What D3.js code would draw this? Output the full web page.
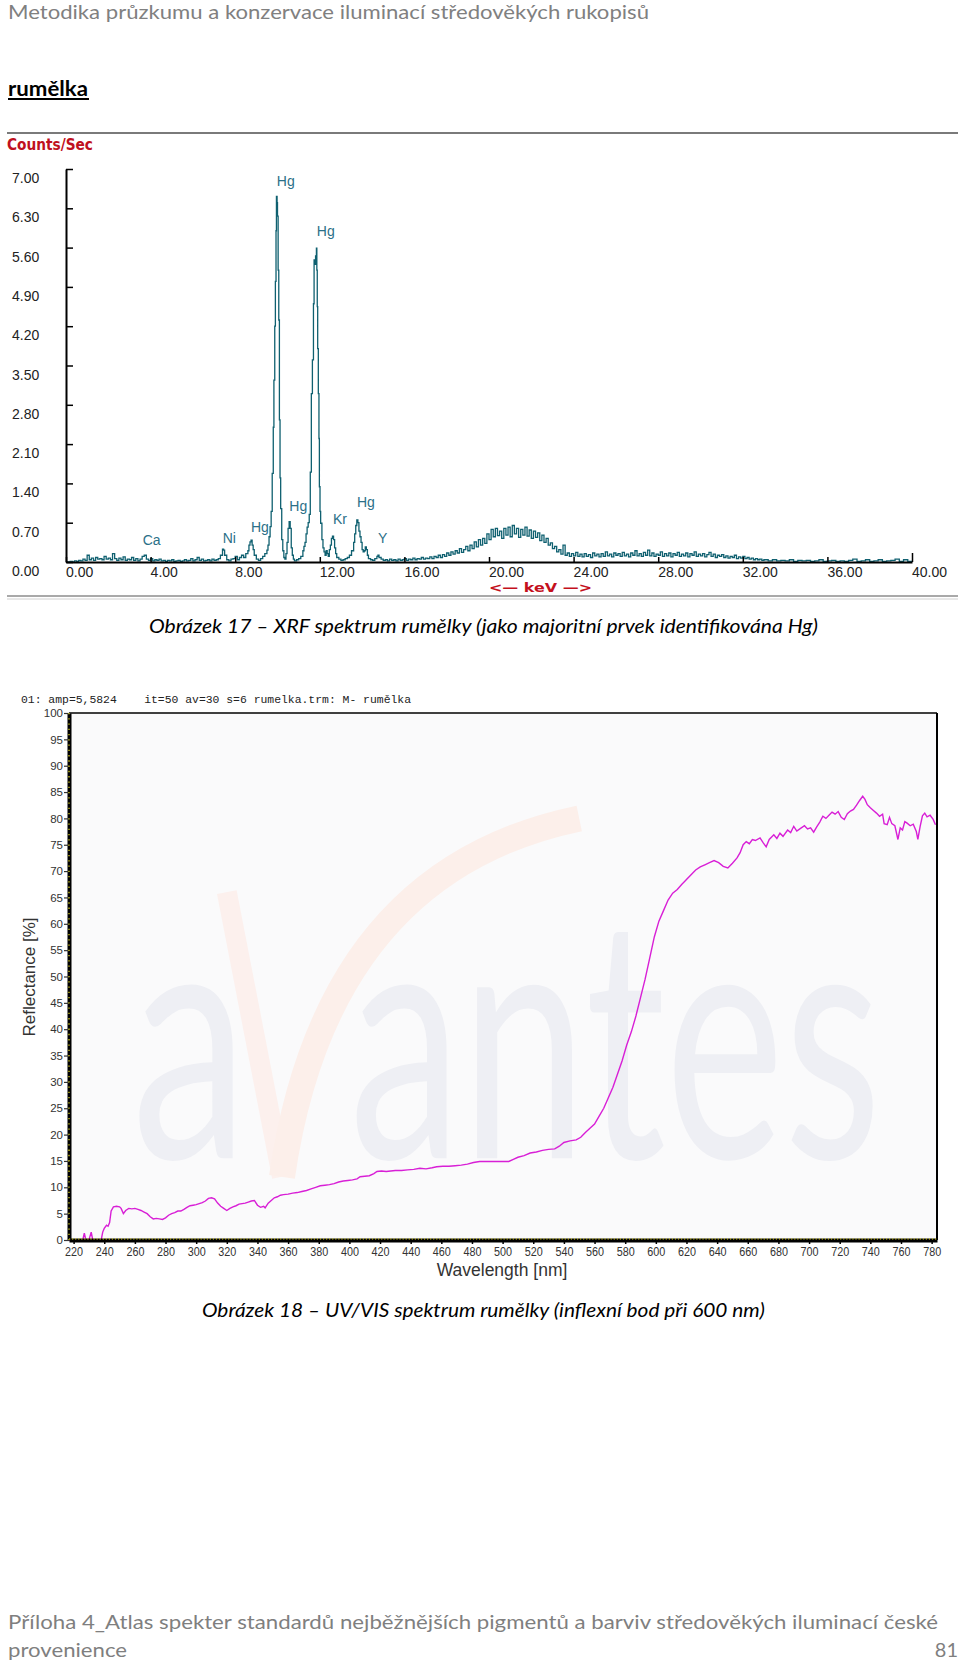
<!DOCTYPE html>
<html><head><meta charset="utf-8">
<script src="https://cdn.jsdelivr.net/npm/d3@7"></script>
<style>
html,body{margin:0;padding:0;background:#fff;}
svg{display:block;}
</style></head><body>
<svg id="page" width="960" height="1666"></svg>
<script>
// ---------------- page texts ----------------
const pageHeader = "Metodika průzkumu a konzervace iluminací středověkých rukopisů";
const sectionTitle = "rumělka";
const caption17 = "Obrázek 17 – XRF spektrum rumělky (jako majoritní prvek identifikována Hg)";
const caption18 = "Obrázek 18 – UV/VIS spektrum rumělky (inflexní bod při 600 nm)";
const footerLine1 = "Příloha 4_Atlas spekter standardů nejběžnějších pigmentů a barviv středověkých iluminací české";
const footerLine2 = "provenience";
const pageNumber = "81";

// ---------------- XRF chart data ----------------
const xrfYLabel = "Counts/Sec";
const xrfXLabel = "<— keV —>";
const xrfYTicks = [0, 0.7, 1.4, 2.1, 2.8, 3.5, 4.2, 4.9, 5.6, 6.3, 7.0];
const xrfXTicks = [0, 4, 8, 12, 16, 20, 24, 28, 32, 36, 40];
// [keV, counts/sec]
const xrfSpectrum = [
[0,0],[0.1,0],[0.2,0.01],[0.3,0],[0.4,0.02],[0.5,0.01],[0.6,0.03],[0.7,0.02],[0.8,0.05],[0.9,0.03],
[1.0,0.12],[1.1,0.04],[1.2,0.07],[1.3,0.03],[1.4,0.08],[1.5,0.05],[1.6,0.06],[1.7,0.04],[1.8,0.1],[1.9,0.05],
[2.0,0.07],[2.1,0.04],[2.2,0.15],[2.3,0.06],[2.4,0.03],[2.5,0.07],[2.6,0.04],[2.7,0.09],[2.8,0.03],[2.9,0.05],
[3.0,0.04],[3.1,0.08],[3.2,0.03],[3.3,0.06],[3.4,0.02],[3.5,0.05],[3.6,0.1],[3.7,0.12],[3.8,0.05],[3.9,0.03],
[4.0,0.06],[4.1,0.02],[4.2,0.04],[4.3,0.03],[4.4,0.05],[4.5,0.02],[4.6,0.03],[4.7,0.01],[4.8,0.03],[4.9,0.02],
[5.0,0.04],[5.1,0.01],[5.2,0.02],[5.3,0.03],[5.4,0.01],[5.5,0.02],[5.6,0.04],[5.7,0.02],[5.8,0.03],[5.9,0.06],
[6.0,0.02],[6.1,0.04],[6.2,0.08],[6.3,0.03],[6.4,0.05],[6.5,0.02],[6.6,0.03],[6.7,0.04],[6.8,0.02],[6.9,0.05],
[7.0,0.03],[7.1,0.04],[7.2,0.06],[7.3,0.12],[7.4,0.23],[7.45,0.21],[7.5,0.12],[7.6,0.04],[7.7,0.02],[7.8,0.05],
[7.9,0.06],[8.0,0.1],[8.1,0.04],[8.2,0.08],[8.3,0.12],[8.4,0.08],[8.5,0.15],[8.6,0.2],[8.65,0.3],[8.7,0.36],
[8.75,0.39],[8.8,0.3],[8.85,0.22],[8.9,0.12],[9.0,0.05],[9.1,0.03],[9.2,0.06],[9.3,0.1],[9.4,0.15],[9.5,0.21],
[9.55,0.3],[9.6,0.45],[9.65,0.63],[9.7,0.9],[9.75,1.58],[9.8,2.4],[9.83,3.24],[9.87,4.2],[9.9,5.0],[9.93,5.9],
[9.95,6.51],[9.98,6.4],[10.0,6.16],[10.03,5.2],[10.06,4.31],[10.09,2.53],[10.12,1.5],[10.15,0.95],[10.2,0.4],[10.25,0.2],
[10.3,0.08],[10.35,0.05],[10.4,0.15],[10.45,0.35],[10.5,0.6],[10.55,0.72],[10.6,0.6],[10.65,0.25],[10.7,0.12],[10.75,0.05],
[10.8,0.02],[10.9,0.04],[11.0,0.06],[11.1,0.1],[11.2,0.2],[11.25,0.28],[11.3,0.35],[11.35,0.5],[11.4,0.62],[11.45,0.7],
[11.5,0.85],[11.55,1.6],[11.6,3.0],[11.65,3.6],[11.7,4.6],[11.73,5.38],[11.77,5.3],[11.8,5.45],[11.84,5.59],[11.86,5.2],
[11.88,4.55],[11.9,3.8],[11.93,3.0],[11.96,2.2],[11.98,1.34],[12.01,0.9],[12.04,0.69],[12.1,0.4],[12.15,0.25],[12.2,0.18],
[12.25,0.12],[12.3,0.2],[12.35,0.15],[12.4,0.1],[12.45,0.22],[12.5,0.3],[12.55,0.42],[12.6,0.46],[12.65,0.4],[12.7,0.25],
[12.75,0.15],[12.8,0.08],[12.9,0.05],[13.0,0.03],[13.1,0.04],[13.2,0.06],[13.3,0.08],[13.4,0.12],[13.5,0.2],[13.6,0.35],
[13.65,0.5],[13.7,0.65],[13.75,0.75],[13.8,0.7],[13.85,0.55],[13.9,0.45],[13.95,0.35],[14.0,0.22],[14.05,0.18],[14.1,0.2],
[14.15,0.27],[14.2,0.22],[14.25,0.12],[14.3,0.06],[14.4,0.04],[14.5,0.03],[14.6,0.06],[14.7,0.1],[14.75,0.12],[14.8,0.08],
[14.9,0.05],[15.0,0.03],[15.1,0.04],[15.2,0.02],[15.3,0.05],[15.4,0.03],[15.5,0.04],[15.6,0.02],[15.7,0.05],[15.8,0.03],
[15.9,0.04],[16.0,0.06],[16.1,0.03],[16.2,0.05],[16.3,0.04],[16.4,0.07],[16.5,0.04],[16.6,0.06],[16.7,0.05],[16.8,0.08],
[16.9,0.05],[17.0,0.07],[17.1,0.06],[17.2,0.09],[17.3,0.06],[17.4,0.1],[17.5,0.08],[17.6,0.12],[17.7,0.08],[17.8,0.13],
[17.9,0.1],[18.0,0.16],[18.1,0.12],[18.2,0.18],[18.3,0.14],[18.4,0.2],[18.5,0.16],[18.6,0.24],[18.7,0.17],[18.8,0.22],
[18.9,0.28],[19.0,0.2],[19.1,0.3],[19.2,0.24],[19.3,0.36],[19.4,0.27],[19.5,0.4],[19.6,0.3],[19.7,0.42],[19.8,0.33],
[19.9,0.5],[20.0,0.4],[20.1,0.58],[20.2,0.45],[20.3,0.6],[20.4,0.47],[20.5,0.55],[20.6,0.42],[20.7,0.6],[20.8,0.48],
[20.9,0.62],[21.0,0.45],[21.1,0.65],[21.2,0.5],[21.3,0.6],[21.4,0.44],[21.5,0.58],[21.6,0.48],[21.7,0.62],[21.8,0.46],
[21.9,0.57],[22.0,0.42],[22.1,0.55],[22.2,0.44],[22.3,0.52],[22.4,0.38],[22.5,0.48],[22.6,0.35],[22.7,0.42],[22.8,0.3],
[22.9,0.34],[23.0,0.24],[23.1,0.28],[23.2,0.18],[23.3,0.22],[23.4,0.14],[23.5,0.3],[23.6,0.12],[23.7,0.16],[23.8,0.1],
[23.9,0.15],[24.0,0.11],[24.1,0.17],[24.2,0.1],[24.3,0.14],[24.4,0.09],[24.5,0.15],[24.6,0.1],[24.7,0.13],[24.8,0.08],
[24.9,0.16],[25.0,0.11],[25.1,0.14],[25.2,0.09],[25.3,0.15],[25.4,0.1],[25.5,0.18],[25.6,0.11],[25.7,0.14],[25.8,0.09],
[25.9,0.16],[26.0,0.12],[26.1,0.15],[26.2,0.1],[26.3,0.17],[26.4,0.11],[26.5,0.14],[26.6,0.09],[26.7,0.16],[26.8,0.12],
[26.9,0.2],[27.0,0.11],[27.1,0.15],[27.2,0.1],[27.3,0.17],[27.4,0.12],[27.5,0.21],[27.6,0.11],[27.7,0.16],[27.8,0.1],
[27.9,0.14],[28.0,0.12],[28.1,0.18],[28.2,0.1],[28.3,0.15],[28.4,0.11],[28.5,0.16],[28.6,0.09],[28.7,0.15],[28.8,0.12],
[28.9,0.17],[29.0,0.1],[29.1,0.14],[29.2,0.11],[29.3,0.16],[29.4,0.09],[29.5,0.15],[29.6,0.12],[29.7,0.18],[29.8,0.1],
[29.9,0.14],[30.0,0.11],[30.1,0.15],[30.2,0.09],[30.3,0.13],[30.4,0.17],[30.5,0.1],[30.6,0.14],[30.7,0.08],[30.8,0.12],
[30.9,0.1],[31.0,0.13],[31.1,0.08],[31.2,0.11],[31.3,0.07],[31.4,0.1],[31.5,0.08],[31.6,0.12],[31.7,0.06],[31.8,0.09],
[31.9,0.07],[32.0,0.1],[32.1,0.06],[32.2,0.08],[32.3,0.05],[32.4,0.07],[32.5,0.04],[32.6,0.06],[32.7,0.04],[32.8,0.05],
[32.9,0.03],[33.0,0.04],[33.2,0.02],[33.4,0.04],[33.6,0.02],[33.8,0.03],[34.0,0.02],[34.2,0.04],[34.4,0.01],[34.6,0.03],
[34.8,0.02],[35.0,0.03],[35.2,0.01],[35.4,0.02],[35.6,0.04],[35.8,0.01],[36.0,0.02],[36.2,0.03],[36.4,0.01],[36.6,0.02],
[36.8,0.01],[37.0,0.03],[37.2,0.05],[37.4,0.01],[37.6,0.02],[37.8,0.04],[38.0,0.01],[38.2,0.02],[38.4,0.04],[38.6,0.01],
[38.8,0.02],[39.0,0.03],[39.2,0.05],[39.4,0.01],[39.6,0.04],[39.8,0.01],[40.0,0.02]
];
// element annotations: label, keV, counts/sec (label centre)
const xrfElements = ["Hg", "Hg", "Hg", "Hg", "Ni", "Ca", "Kr", "Hg", "Y"];
const xrfElementKeV = [10.39, 12.28, 10.98, 9.17, 7.72, 4.05, 12.95, 14.18, 14.97];
const xrfElementCps = [6.79, 5.90, 1.00, 0.63, 0.42, 0.39, 0.76, 1.06, 0.42];

// ---------------- UV/VIS chart data ----------------
const uvTitle = "01: amp=5,5824    it=50 av=30 s=6 rumelka.trm: M- rumělka";
const uvYLabel = "Reflectance [%]";
const uvXLabel = "Wavelength [nm]";
const uvYTicks = [0,5,10,15,20,25,30,35,40,45,50,55,60,65,70,75,80,85,90,95,100];
const uvXTicks = [220,240,260,280,300,320,340,360,380,400,420,440,460,480,500,520,540,560,580,600,620,640,660,680,700,720,740,760,780];
const uvWatermarkWords = ["a", "antes"];
// [wavelength nm, reflectance %]
const uvSpectrum = [
[217,0],[222,0],[226,0],[227,1.3],[228,0],[230,0],[231.5,1.5],[232.5,0],[238,0],[239,1.5],
[240,2.2],[241.5,2.8],[242.5,2.6],[243.5,3.3],[244.5,5.5],[246,6.3],[248,6.4],[250,6.3],[251,6.0],[252.5,5.0],
[254,5.6],[256,6.0],[258,5.9],[260,6.0],[262,5.8],[264,5.6],[266,5.3],[268,5.0],[270,4.4],[272,4.0],
[274,4.1],[276,4.0],[278,3.9],[280,4.2],[282,4.7],[284,5.0],[286,5.2],[288,5.5],[290,5.5],[292,5.8],
[294,6.2],[296,6.5],[298,6.6],[300,6.7],[302,6.9],[304,7.1],[306,7.4],[308,7.9],[310,8.0],[312,7.8],
[314,7.0],[316,6.4],[318,6.0],[320,5.6],[322,6.0],[324,6.3],[326,6.5],[328,6.8],[330,6.9],[332,7.0],
[334,7.2],[336,7.4],[338,7.5],[340,6.6],[342,6.2],[344,6.4],[345,6.1],[347,7.0],[349,7.5],[351,8.0],
[353,8.2],[355,8.5],[357,8.6],[360,8.7],[363,8.9],[366,9.0],[369,9.2],[372,9.4],[375,9.7],[378,10.0],
[381,10.3],[384,10.4],[387,10.5],[390,10.7],[393,11.0],[396,11.2],[399,11.3],[402,11.4],[405,11.6],[407,12.0],
[410,12.1],[413,12.2],[416,12.6],[418,13.0],[421,13.1],[424,13.0],[427,13.1],[430,13.2],[434,13.2],[438,13.3],
[442,13.4],[446,13.6],[450,13.5],[454,13.7],[457,13.9],[461,14.0],[465,14.0],[469,14.1],[473,14.2],[477,14.4],
[481,14.7],[485,14.9],[490,14.9],[495,14.9],[500,14.9],[504,14.9],[507,15.3],[510,15.7],[514,16.0],[518,16.5],
[522,16.7],[526,17.0],[530,17.2],[534,17.3],[537,17.8],[540,18.5],[544,18.8],[548,19.0],[551,19.5],[554,20.4],
[557,21.2],[560,22.0],[563,23.5],[566,25.0],[569,27.0],[572,29.0],[575,31.5],[578,34.0],[581,37.0],[584,39.5],
[587,42.5],[590,46.0],[593,49.5],[596,53.5],[599,57.5],[602,60.5],[605,62.5],[608,64.5],[611,65.8],[614,66.5],
[617,67.5],[620,68.4],[623,69.3],[626,70.2],[629,70.8],[632,71.2],[635,71.6],[638,72.0],[641,71.6],[644,70.9],
[647,70.6],[650,71.5],[653,72.5],[655,73.5],[657,75.0],[659,75.6],[661,75.2],[663,76.0],[665,75.8],[668,76.3],
[670,75.4],[672,74.6],[674,76.0],[677,76.9],[679,76.2],[681,77.2],[683,76.6],[686,77.8],[688,77.3],[690,78.5],
[692,77.6],[694,78.0],[697,78.6],[699,78.0],[701,78.2],[703,77.4],[705,78.4],[707,79.3],[709,80.4],[711,80.0],
[713,80.6],[715,81.2],[717,80.8],[719,81.3],[721,80.2],[723,79.8],[725,80.9],[727,81.4],[729,81.7],[731,82.5],
[733,83.4],[735,84.2],[736.5,83.6],[738,82.6],[740,82.0],[742,81.5],[744,81.0],[746,80.4],[748,80.8],[749,79.0],
[751,78.8],[752.5,80.2],[754,79.0],[756,78.6],[758,76.0],[759.5,78.2],[761,77.8],[762.5,79.4],[764,79.1],[766,78.6],
[768,78.9],[770,77.5],[771,76.0],[772.5,78.5],[774,80.5],[775.5,81.0],[777,80.3],[779,80.6],[781,79.8],[782.5,78.8]
];

// ---------------- drawing ----------------
const svg = d3.select("#page");
const bodyFont = "Lato, 'Open Sans', 'Noto Sans', sans-serif";
const chartFont = "'Liberation Sans', Arial, sans-serif";

// header / section title
svg.append("text").attr("x", 8).attr("y", 19)
  .attr("font-family", bodyFont).attr("font-size", 20).attr("fill", "#808080")
  .attr("textLength", 641).attr("lengthAdjust", "spacingAndGlyphs").text(pageHeader);
svg.append("text").attr("x", 8).attr("y", 96)
  .attr("font-family", bodyFont).attr("font-size", 20).attr("font-weight", 700).attr("fill", "#000")
  .attr("textLength", 80).attr("lengthAdjust", "spacingAndGlyphs").text(sectionTitle);
svg.append("line").attr("x1", 8).attr("x2", 89).attr("y1", 99).attr("y2", 99)
  .attr("stroke", "#000").attr("stroke-width", 1.8);

// ---- XRF figure ----
svg.append("line").attr("x1", 7).attr("x2", 958).attr("y1", 133).attr("y2", 133)
  .attr("stroke", "#7a7a7a").attr("stroke-width", 2);
svg.append("line").attr("x1", 7).attr("x2", 958).attr("y1", 596).attr("y2", 596)
  .attr("stroke", "#8c8c8c").attr("stroke-width", 1.6);
svg.append("line").attr("x1", 7).attr("x2", 958).attr("y1", 599).attr("y2", 599)
  .attr("stroke", "#d0d0d0").attr("stroke-width", 1);

const xX = d3.scaleLinear().domain([0, 40]).range([66, 912]);
const xY = d3.scaleLinear().domain([0, 7]).range([562, 169]);
const gX = svg.append("g");

gX.append("text").attr("x", 7).attr("y", 150)
  .attr("font-family", "Verdana, 'DejaVu Sans', sans-serif").attr("font-size", 15).attr("font-weight", 700)
  .attr("fill", "#bf1020").attr("textLength", 86).attr("lengthAdjust", "spacingAndGlyphs").text(xrfYLabel);

// spectrum line
gX.append("path").datum(xrfSpectrum)
  .attr("fill", "none").attr("stroke", "#0f6070").attr("stroke-width", 1.3)
  .attr("d", d3.line().x(d => xX(d[0])).y(d => xY(d[1])).curve(d3.curveStepAfter));

// y axis (ticks pointing inwards)
const yAxisX = gX.append("g").attr("transform", `translate(${xX(0)},0)`)
  .call(d3.axisRight(xY).tickValues(xrfYTicks).tickSize(7).tickSizeOuter(0).tickFormat(""));
yAxisX.select(".domain").attr("stroke", "#000").attr("stroke-width", 2);
yAxisX.selectAll(".tick line").attr("stroke", "#000").attr("stroke-width", 1.5);
gX.selectAll("text.ylab").data(xrfYTicks).join("text").attr("class", "ylab")
  .attr("x", 12).attr("y", d => xY(d) + 14)
  .attr("font-family", chartFont).attr("font-size", 14).attr("fill", "#222")
  .text(d => d3.format(".2f")(d));

// x axis
const xAxisX = gX.append("g").attr("transform", `translate(0,${xY(0)})`)
  .call(d3.axisTop(xX).tickValues(xrfXTicks).tickSize(5).tickSizeOuter(0).tickFormat(""));
xAxisX.select(".domain").attr("stroke", "#000").attr("stroke-width", 2);
xAxisX.selectAll(".tick line").attr("stroke", "#000").attr("stroke-width", 1.5)
  .attr("y2", d => d === 40 ? -9 : -5);
gX.selectAll("text.xlab").data(xrfXTicks).join("text").attr("class", "xlab")
  .attr("x", d => xX(d)).attr("y", 577)
  .attr("font-family", chartFont).attr("font-size", 14).attr("fill", "#222")
  .text(d => d3.format(".2f")(d));
gX.append("text").attr("x", 489).attr("y", 592)
  .attr("font-family", "Verdana, 'DejaVu Sans', sans-serif").attr("font-size", 13).attr("font-weight", 700)
  .attr("fill", "#c4101c").attr("textLength", 103).attr("lengthAdjust", "spacingAndGlyphs").text(xrfXLabel);

// element labels
gX.selectAll("text.el").data(xrfElements).join("text").attr("class", "el")
  .attr("x", (d, i) => xX(xrfElementKeV[i])).attr("y", (d, i) => xY(xrfElementCps[i]))
  .attr("text-anchor", "middle").attr("dominant-baseline", "central")
  .attr("font-family", chartFont).attr("font-size", 14).attr("fill", "#2b7088")
  .text(d => d);

svg.append("text").attr("x", 483.5).attr("y", 633).attr("text-anchor", "middle")
  .attr("font-family", bodyFont).attr("font-size", 19).attr("font-style", "italic").attr("fill", "#000")
  .attr("textLength", 669).attr("lengthAdjust", "spacingAndGlyphs").text(caption17);

// ---- UV/VIS figure ----
const uX = d3.scaleLinear().domain([217, 783.5]).range([69, 937]);
const uY = d3.scaleLinear().domain([0, 100]).range([1240, 713]);
const gU = svg.append("g");

gU.append("text").attr("x", 21).attr("y", 703).style("white-space", "pre")
  .attr("font-family", "'Liberation Mono', 'DejaVu Sans Mono', monospace").attr("font-size", 11)
  .attr("fill", "#222").attr("textLength", 390).attr("lengthAdjust", "spacingAndGlyphs").text(uvTitle);

// plot background
gU.append("rect").attr("x", uX(217)).attr("y", uY(100)).attr("width", uX(783.5) - uX(217)).attr("height", uY(0) - uY(100))
  .attr("fill", "#fafafb");

// watermark (faint "a V antes" logo)
const wm = gU.append("g");
const vLeft = d3.path();
vLeft.moveTo(uX(320), uY(66)); vLeft.lineTo(uX(356), uY(12));
wm.append("path").attr("d", vLeft.toString()).attr("fill", "none")
  .attr("stroke", "#fcf0ed").attr("stroke-width", 20).attr("stroke-linecap", "butt");
const vRight = d3.path();
vRight.moveTo(uX(356), uY(12)); vRight.quadraticCurveTo(uX(385), uY(70), uX(550), uY(80));
wm.append("path").attr("d", vRight.toString()).attr("fill", "none")
  .attr("stroke", "#fcefea").attr("stroke-width", 26).attr("stroke-linecap", "butt");
wm.append("text").attr("transform", `translate(${uX(258)},${uY(15.5)}) scale(1,1.5)`)
  .attr("font-family", "Lato, 'Open Sans', sans-serif").attr("font-weight", 400).attr("font-size", 225)
  .attr("fill", "#eeeff4").attr("textLength", 116).attr("lengthAdjust", "spacingAndGlyphs").text(uvWatermarkWords[0]);
wm.append("text").attr("transform", `translate(${uX(400)},${uY(15.5)}) scale(1,1.5)`)
  .attr("font-family", "Lato, 'Open Sans', sans-serif").attr("font-weight", 400).attr("font-size", 225)
  .attr("fill", "#eeeff4").attr("textLength", 532).attr("lengthAdjust", "spacingAndGlyphs").text(uvWatermarkWords[1]);

// spectrum
gU.append("path").datum(uvSpectrum)
  .attr("fill", "none").attr("stroke", "#d81fd6").attr("stroke-width", 1.4)
  .attr("d", d3.line().x(d => uX(d[0])).y(d => uY(d[1])));

// frame
gU.append("line").attr("x1", uX(217)).attr("x2", uX(783.5)).attr("y1", uY(100)).attr("y2", uY(100))
  .attr("stroke", "#000").attr("stroke-width", 1.5);
gU.append("line").attr("x1", uX(783.5)).attr("x2", uX(783.5)).attr("y1", uY(100)).attr("y2", uY(0))
  .attr("stroke", "#000").attr("stroke-width", 2);

// y axis
const yAxU = gU.append("g").attr("transform", `translate(${uX(217)},0)`)
  .call(d3.axisLeft(uY).tickValues(uvYTicks).tickSize(5).tickSizeOuter(0).tickPadding(1));
yAxU.select(".domain").attr("stroke", "#000").attr("stroke-width", 4);
yAxU.selectAll(".tick line").attr("stroke", "#333").attr("stroke-width", 1.2);
yAxU.selectAll(".tick text").attr("font-family", chartFont).attr("font-size", 11.5).attr("fill", "#333");
// yellow minor marks on the y axis
gU.append("line").attr("x1", uX(217)).attr("x2", uX(217)).attr("y1", uY(100)).attr("y2", uY(0))
  .attr("stroke", "#e8e020").attr("stroke-width", 1.2).attr("stroke-dasharray", "1.3,3.96");

// x axis
const xAxU = gU.append("g").attr("transform", `translate(0,${uY(0)})`)
  .call(d3.axisBottom(uX).tickValues(uvXTicks).tickSize(4).tickSizeOuter(0).tickPadding(3));
xAxU.select(".domain").attr("stroke", "#000").attr("stroke-width", 4);
xAxU.selectAll(".tick line").attr("stroke", "#000").attr("stroke-width", 1.5);
xAxU.selectAll(".tick text").attr("font-family", chartFont).attr("font-size", 12.5).attr("fill", "#333")
  .attr("textLength", 18).attr("lengthAdjust", "spacingAndGlyphs");
gU.append("line").attr("x1", uX(217)).attr("x2", uX(783.5)).attr("y1", uY(0) - 1).attr("y2", uY(0) - 1)
  .attr("stroke", "#e8e020").attr("stroke-width", 1.2).attr("stroke-dasharray", "1.2,1.86");

gU.append("text").attr("transform", `translate(35,977) rotate(-90)`).attr("text-anchor", "middle")
  .attr("font-family", chartFont).attr("font-size", 17).attr("fill", "#333").text(uvYLabel);
gU.append("text").attr("x", 502).attr("y", 1276).attr("text-anchor", "middle")
  .attr("font-family", chartFont).attr("font-size", 17.5).attr("fill", "#333").text(uvXLabel);

svg.append("text").attr("x", 483.5).attr("y", 1317).attr("text-anchor", "middle")
  .attr("font-family", bodyFont).attr("font-size", 19).attr("font-style", "italic").attr("fill", "#000")
  .attr("textLength", 563).attr("lengthAdjust", "spacingAndGlyphs").text(caption18);

// footer
svg.append("text").attr("x", 8).attr("y", 1629)
  .attr("font-family", bodyFont).attr("font-size", 20).attr("fill", "#7f7f7f")
  .attr("textLength", 930).attr("lengthAdjust", "spacingAndGlyphs").text(footerLine1);
svg.append("text").attr("x", 8).attr("y", 1657)
  .attr("font-family", bodyFont).attr("font-size", 20).attr("fill", "#7f7f7f")
  .attr("textLength", 119).attr("lengthAdjust", "spacingAndGlyphs").text(footerLine2);
svg.append("text").attr("x", 958).attr("y", 1657).attr("text-anchor", "end")
  .attr("font-family", bodyFont).attr("font-size", 20).attr("fill", "#7f7f7f").text(pageNumber);
</script>
</body></html>
